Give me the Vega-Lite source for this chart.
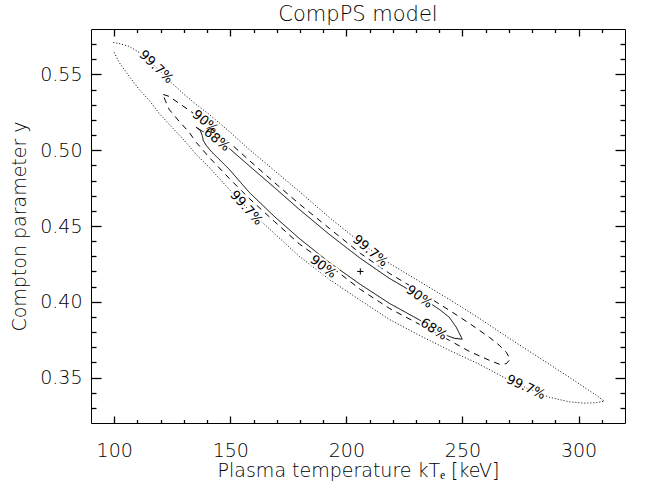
{
 "$schema": "https://vega.github.io/schema/vega-lite/v6.json",
 "width": 534, "height": 394,
 "autosize": {"type": "none"},
 "padding": {"left": 91, "top": 29, "right": 25, "bottom": 65},
 "background": "white",
 "title": {"text": "CompPS model", "fontSize": 21, "font": "DejaVu Sans", "fontWeight": 200, "offset": 3, "color": "black"},
 "config": {
  "view": {"stroke": "black", "strokeWidth": 1},
  "axis": {"domain": false, "grid": false, "ticks": true, "tickColor": "black", "tickWidth": 1.3, "tickOpacity": 1, "labelColor": "black", "titleColor": "black",
   "labelFont": "DejaVu Sans", "titleFont": "DejaVu Sans", "labelFontWeight": 200, "titleFontWeight": 200, "labelFontSize": 19, "titleFontSize": 19}
 },
 "datasets": {
  "contours": [
   {"lvl":"99.7%","i":0,"x":99.6,"y":0.5711},{"lvl":"99.7%","i":1,"x":102.15,"y":0.5704},{"lvl":"99.7%","i":2,"x":106.46,"y":0.5685},
   {"lvl":"99.7%","i":3,"x":110.77,"y":0.5645},{"lvl":"99.7%","i":4,"x":115.08,"y":0.5592},{"lvl":"99.7%","i":5,"x":119.38,"y":0.5526},
   {"lvl":"99.7%","i":6,"x":124.55,"y":0.5447},{"lvl":"99.7%","i":7,"x":130.15,"y":0.5368},{"lvl":"99.7%","i":8,"x":135.32,"y":0.5302},
   {"lvl":"99.7%","i":9,"x":140.92,"y":0.5236},{"lvl":"99.7%","i":10,"x":149.54,"y":0.5124},{"lvl":"99.7%","i":11,"x":158.15,"y":0.5005},
   {"lvl":"99.7%","i":12,"x":168.92,"y":0.4867},{"lvl":"99.7%","i":13,"x":179.69,"y":0.4728},{"lvl":"99.7%","i":14,"x":192.61,"y":0.4557},
   {"lvl":"99.7%","i":15,"x":205.97,"y":0.4392},{"lvl":"99.7%","i":16,"x":218.46,"y":0.4254},{"lvl":"99.7%","i":17,"x":231.38,"y":0.4135},
   {"lvl":"99.7%","i":18,"x":244.3,"y":0.4016},{"lvl":"99.7%","i":19,"x":257.23,"y":0.3891},{"lvl":"99.7%","i":20,"x":270.15,"y":0.3759},
   {"lvl":"99.7%","i":21,"x":278.77,"y":0.3673},{"lvl":"99.7%","i":22,"x":287.38,"y":0.3588},{"lvl":"99.7%","i":23,"x":296.0,"y":0.3502},
   {"lvl":"99.7%","i":24,"x":302.46,"y":0.3436},{"lvl":"99.7%","i":25,"x":307.62,"y":0.3383},{"lvl":"99.7%","i":26,"x":311.07,"y":0.3344},
   {"lvl":"99.7%","i":27,"x":307.62,"y":0.3334},{"lvl":"99.7%","i":28,"x":302.46,"y":0.3331},{"lvl":"99.7%","i":29,"x":296.0,"y":0.334},
   {"lvl":"99.7%","i":30,"x":287.38,"y":0.337},{"lvl":"99.7%","i":31,"x":278.77,"y":0.3423},{"lvl":"99.7%","i":32,"x":270.15,"y":0.3482},
   {"lvl":"99.7%","i":33,"x":257.23,"y":0.3588},{"lvl":"99.7%","i":34,"x":244.3,"y":0.368},{"lvl":"99.7%","i":35,"x":231.38,"y":0.3779},
   {"lvl":"99.7%","i":36,"x":218.46,"y":0.3884},{"lvl":"99.7%","i":37,"x":205.97,"y":0.401},{"lvl":"99.7%","i":38,"x":192.61,"y":0.4148},
   {"lvl":"99.7%","i":39,"x":179.69,"y":0.43},{"lvl":"99.7%","i":40,"x":168.92,"y":0.4452},{"lvl":"99.7%","i":41,"x":158.15,"y":0.4603},
   {"lvl":"99.7%","i":42,"x":149.54,"y":0.4742},{"lvl":"99.7%","i":43,"x":140.92,"y":0.4887},{"lvl":"99.7%","i":44,"x":135.32,"y":0.4972},
   {"lvl":"99.7%","i":45,"x":130.15,"y":0.5065},{"lvl":"99.7%","i":46,"x":124.55,"y":0.5157},{"lvl":"99.7%","i":47,"x":119.38,"y":0.5243},
   {"lvl":"99.7%","i":48,"x":115.08,"y":0.5329},{"lvl":"99.7%","i":49,"x":110.77,"y":0.5401},{"lvl":"99.7%","i":50,"x":106.46,"y":0.5487},
   {"lvl":"99.7%","i":51,"x":102.15,"y":0.5579},{"lvl":"99.7%","i":52,"x":99.6,"y":0.5658},

   {"lvl":"90%","i":0,"x":121.11,"y":0.5368},{"lvl":"90%","i":1,"x":123.69,"y":0.5355},{"lvl":"90%","i":2,"x":128.0,"y":0.5309},
   {"lvl":"90%","i":3,"x":132.31,"y":0.5263},{"lvl":"90%","i":4,"x":135.32,"y":0.523},{"lvl":"90%","i":5,"x":140.92,"y":0.517},
   {"lvl":"90%","i":6,"x":149.54,"y":0.5052},{"lvl":"90%","i":7,"x":158.15,"y":0.4933},{"lvl":"90%","i":8,"x":168.92,"y":0.4788},
   {"lvl":"90%","i":9,"x":179.69,"y":0.4646},{"lvl":"90%","i":10,"x":192.61,"y":0.4485},{"lvl":"90%","i":11,"x":205.97,"y":0.432},
   {"lvl":"90%","i":12,"x":218.46,"y":0.4188},{"lvl":"90%","i":13,"x":231.38,"y":0.4069},{"lvl":"90%","i":14,"x":244.3,"y":0.3944},
   {"lvl":"90%","i":15,"x":252.92,"y":0.3858},{"lvl":"90%","i":16,"x":261.53,"y":0.3766},{"lvl":"90%","i":17,"x":265.84,"y":0.3713},
   {"lvl":"90%","i":18,"x":268.86,"y":0.3667},{"lvl":"90%","i":19,"x":270.58,"y":0.3621},{"lvl":"90%","i":20,"x":268.86,"y":0.3591},
   {"lvl":"90%","i":21,"x":265.84,"y":0.3588},{"lvl":"90%","i":22,"x":261.53,"y":0.3614},{"lvl":"90%","i":23,"x":252.92,"y":0.3673},
   {"lvl":"90%","i":24,"x":244.3,"y":0.3746},{"lvl":"90%","i":25,"x":231.38,"y":0.3852},{"lvl":"90%","i":26,"x":218.46,"y":0.3957},
   {"lvl":"90%","i":27,"x":205.97,"y":0.4082},{"lvl":"90%","i":28,"x":192.61,"y":0.4241},{"lvl":"90%","i":29,"x":179.69,"y":0.4382},
   {"lvl":"90%","i":30,"x":168.92,"y":0.4531},{"lvl":"90%","i":31,"x":158.15,"y":0.4682},{"lvl":"90%","i":32,"x":149.54,"y":0.4814},
   {"lvl":"90%","i":33,"x":140.92,"y":0.4953},{"lvl":"90%","i":34,"x":135.32,"y":0.5052},{"lvl":"90%","i":35,"x":132.31,"y":0.5118},
   {"lvl":"90%","i":36,"x":128.0,"y":0.519},{"lvl":"90%","i":37,"x":123.69,"y":0.5269},{"lvl":"90%","i":38,"x":121.97,"y":0.5329},
   {"lvl":"90%","i":39,"x":121.11,"y":0.5368},

   {"lvl":"68%","i":0,"x":135.32,"y":0.5151},{"lvl":"68%","i":1,"x":138.77,"y":0.5118},{"lvl":"68%","i":2,"x":143.94,"y":0.5071},
   {"lvl":"68%","i":3,"x":149.54,"y":0.5012},{"lvl":"68%","i":4,"x":158.15,"y":0.4897},{"lvl":"68%","i":5,"x":168.92,"y":0.4755},
   {"lvl":"68%","i":6,"x":179.69,"y":0.461},{"lvl":"68%","i":7,"x":192.61,"y":0.4445},{"lvl":"68%","i":8,"x":205.97,"y":0.4287},
   {"lvl":"68%","i":9,"x":218.46,"y":0.4155},{"lvl":"68%","i":10,"x":231.38,"y":0.4039},{"lvl":"68%","i":11,"x":240.0,"y":0.395},
   {"lvl":"68%","i":12,"x":244.3,"y":0.3898},{"lvl":"68%","i":13,"x":247.32,"y":0.3832},{"lvl":"68%","i":14,"x":249.9,"y":0.3753},
   {"lvl":"68%","i":15,"x":246.46,"y":0.3759},{"lvl":"68%","i":16,"x":243.01,"y":0.3779},{"lvl":"68%","i":17,"x":237.84,"y":0.3818},
   {"lvl":"68%","i":18,"x":231.38,"y":0.3881},{"lvl":"68%","i":19,"x":218.46,"y":0.399},{"lvl":"68%","i":20,"x":205.97,"y":0.4115},
   {"lvl":"68%","i":21,"x":192.61,"y":0.426},{"lvl":"68%","i":22,"x":179.69,"y":0.4418},{"lvl":"68%","i":23,"x":168.92,"y":0.4564},
   {"lvl":"68%","i":24,"x":158.15,"y":0.4722},{"lvl":"68%","i":25,"x":149.54,"y":0.4874},{"lvl":"68%","i":26,"x":144.37,"y":0.4953},
   {"lvl":"68%","i":27,"x":141.78,"y":0.4992},{"lvl":"68%","i":28,"x":139.63,"y":0.5032},{"lvl":"68%","i":29,"x":138.34,"y":0.5065},
   {"lvl":"68%","i":30,"x":137.91,"y":0.5098},{"lvl":"68%","i":31,"x":137.04,"y":0.5131},{"lvl":"68%","i":32,"x":135.32,"y":0.5151}
  ],
  "labels": [
   {"t":"99.7%","x":118.1,"y":0.555,"ang":44},
   {"t":"90%","x":139.2,"y":0.5187,"ang":40},
   {"t":"68%","x":144.2,"y":0.5071,"ang":39},
   {"t":"99.7%","x":156.9,"y":0.462,"ang":48},
   {"t":"99.7%","x":210.3,"y":0.4336,"ang":40},
   {"t":"90%","x":190.0,"y":0.4231,"ang":37},
   {"t":"90%","x":231.4,"y":0.4033,"ang":36},
   {"t":"68%","x":237.6,"y":0.3818,"ang":33},
   {"t":"99.7%","x":277.3,"y":0.3436,"ang":25}
  ],
  "best": [{"x":206,"y":0.42}]
 },
 "layer": [
  {
   "data": {"name": "contours"},
   "mark": {"type": "line", "color": "black", "strokeWidth": 1, "interpolate": "linear"},
   "encoding": {
    "x": {"field": "x", "type": "quantitative", "scale": {"domain": [90, 320], "nice": false, "zero": false},
     "axis": {"orient": "bottom", "values": [100,110,120,130,140,150,160,170,180,190,200,210,220,230,240,250,260,270,280,290,300,310],
      "tickSize": {"condition": {"test": "datum.value % 50 === 0", "value": -7}, "value": -3.5},
      "labelExpr": "datum.value % 50 === 0 ? datum.label : ''", "labelPadding": 25, "labelFlush": false,
      "title": "Plasma temperature kTₑ [keV]", "titlePadding": 1}},
    "y": {"field": "y", "type": "quantitative", "scale": {"domain": [0.32, 0.58], "nice": false, "zero": false},
     "axis": {"orient": "left", "values": [0.33,0.34,0.35,0.36,0.37,0.38,0.39,0.4,0.41,0.42,0.43,0.44,0.45,0.46,0.47,0.48,0.49,0.5,0.51,0.52,0.53,0.54,0.55,0.56,0.57],
      "tickSize": {"condition": {"test": "abs(datum.value*20 - round(datum.value*20)) < 0.000001", "value": -10}, "value": -5},
      "labelExpr": "abs(datum.value*20 - round(datum.value*20)) < 0.000001 ? format(datum.value, '.2f') : ''",
      "labelPadding": 19, "labelFlush": false, "title": "Compton parameter y", "titlePadding": 10}},
    "detail": {"field": "lvl"},
    "order": {"field": "i", "type": "quantitative"},
    "strokeDash": {"field": "lvl", "type": "nominal", "scale": {"domain": ["68%", "90%", "99.7%"], "range": [[1, 0], [6, 5], [1, 2]]}, "legend": null}
   }
  },
  {
   "data": {"name": "labels"},
   "mark": {"type": "text", "font": "DejaVu Sans", "fontWeight": 200, "fontSize": 13, "stroke": "white", "strokeWidth": 4, "fill": "white", "align": "center", "baseline": "middle"},
   "encoding": {
    "x": {"field": "x", "type": "quantitative", "axis": null},
    "y": {"field": "y", "type": "quantitative", "axis": null},
    "text": {"field": "t"},
    "angle": {"field": "ang", "type": "quantitative", "scale": null}
   }
  },
  {
   "data": {"name": "labels"},
   "mark": {"type": "text", "font": "DejaVu Sans", "fontWeight": "normal", "fontSize": 13, "fill": "#000000", "opacity": 1, "align": "center", "baseline": "middle"},
   "encoding": {
    "x": {"field": "x", "type": "quantitative", "axis": null},
    "y": {"field": "y", "type": "quantitative", "axis": null},
    "text": {"field": "t"},
    "angle": {"field": "ang", "type": "quantitative", "scale": null}
   }
  },
  {
   "data": {"name": "best"},
   "mark": {"type": "point", "shape": "M-1,0H1M0,-1V1", "size": 40, "stroke": "black", "strokeWidth": 1, "filled": false, "opacity": 1},
   "encoding": {
    "x": {"field": "x", "type": "quantitative",
     "axis": {"orient": "top", "values": [100,110,120,130,140,150,160,170,180,190,200,210,220,230,240,250,260,270,280,290,300,310],
      "tickSize": {"condition": {"test": "datum.value % 50 === 0", "value": -7}, "value": -3.5}, "labels": false, "title": null}},
    "y": {"field": "y", "type": "quantitative",
     "axis": {"orient": "right", "values": [0.33,0.34,0.35,0.36,0.37,0.38,0.39,0.4,0.41,0.42,0.43,0.44,0.45,0.46,0.47,0.48,0.49,0.5,0.51,0.52,0.53,0.54,0.55,0.56,0.57],
      "tickSize": {"condition": {"test": "abs(datum.value*20 - round(datum.value*20)) < 0.000001", "value": -10}, "value": -5}, "labels": false, "title": null}}
   }
  }
 ],
 "resolve": {"axis": {"x": "independent", "y": "independent"}}
}
